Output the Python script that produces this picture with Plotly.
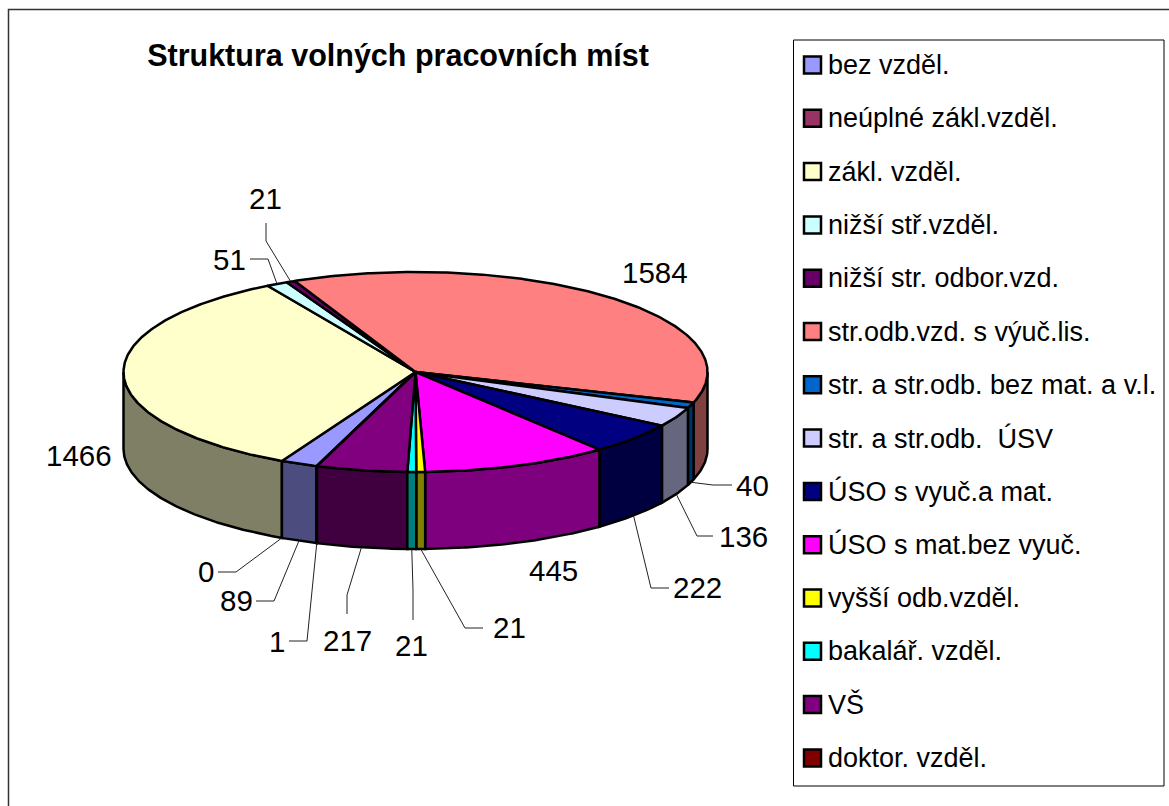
"""
Struktura volnych pracovnich mist - 3D pie drawn on a pixel-sized plot area
"""
import numpy as np
import plotly.graph_objects as go

# data
categories = ['bez vzděl.', 'neúplné zákl.vzděl.', 'zákl. vzděl.', 'nižší stř.vzděl.',
              'nižší str. odbor.vzd.', 'str.odb.vzd. s výuč.lis.', 'str. a str.odb. bez mat. a v.l.',
              'str. a str.odb.  ÚSV', 'ÚSO s vyuč.a mat.', 'ÚSO s mat.bez vyuč.',
              'vyšší odb.vzděl.', 'bakalář. vzděl.', 'VŠ', 'doktor. vzděl.']
values = [89, 0, 1466, 51, 21, 1584, 40, 136, 222, 445, 21, 21, 217, 1]
top_colors = ['#9999FF', '#993366', '#FFFFCC', '#CCFFFF', '#660066', '#FF8080', '#0066CC',
              '#CCCCFF', '#000080', '#FF00FF', '#FFFF00', '#00FFFF', '#800080', '#800000']

# pie geometry in pixels
CX, CY = 415.5, 372
RX, RY = 292, 100
DEPTH = 77
START_ANGLE = 199.8
FONT = 'Liberation Sans, Arial, sans-serif'
W, H = 1169, 806

# where the value labels sit: elbow of leader, end of leader, label centre (None = no leader)
label_layout = {
    0: ((274, 601), (256, 601), (236, 600)),
    1: ((236, 572), (218, 572), (206, 571)),
    2: (None, None, (79, 455)),
    3: ((268, 259), (250, 259), (229, 259)),
    4: ((266, 241), (266, 223), (265, 198)),
    5: (None, None, (655, 272)),
    6: ((713, 485), (732, 485), (752, 485)),
    7: ((697, 536), (713, 536), (743, 536)),
    8: ((651, 588), (669, 588), (697, 587)),
    9: (None, None, (553, 570)),
    10: ((465, 628), (483, 628), (509, 627)),
    11: ((413, 590), (413, 620), (411, 645)),
    12: ((347, 595), (347, 614), (347, 640)),
    13: ((307, 641), (289, 641), (277, 641)),
}


def rim(angle, drop=0):
    """Point on the pie rim; angle in degrees clockwise from the top"""
    rad = np.radians(angle)
    return CX + RX * np.sin(rad), CY - RY * np.cos(rad) + drop


def darker(color):
    """Side walls are the top colour at half brightness"""
    r, g, b = (int(color[i:i + 2], 16) // 2 for i in (1, 3, 5))
    return f'rgb({r},{g},{b})'


def visible_parts(a0, a1):
    """Parts of a slice that face the viewer (angles 90..270, also one turn on)"""
    parts = []
    for low, high in ((90, 270), (450, 630)):
        lo, hi = max(a0, low), min(a1, high)
        if hi > lo:
            parts.append((lo, hi))
    return parts


total = sum(values)
edges = START_ANGLE + np.cumsum([0] + values) / total * 360

fig = go.Figure()

# side walls, back edges first so the front ones overlap them
walls = []
for i, (a0, a1) in enumerate(zip(edges[:-1], edges[1:])):
    if values[i] > 0:
        walls += [(lo, hi, i) for lo, hi in visible_parts(a0, a1)]
walls.sort(key=lambda w: -abs(((w[0] + w[1]) / 2) % 360 - 180))
for lo, hi, i in walls:
    t = np.linspace(lo, hi, max(2, int(hi - lo) * 2))
    xs, ys = rim(t)
    xb, yb = rim(t[::-1], DEPTH)
    fig.add_trace(go.Scatter(
        x=np.r_[xs, xb, xs[0]], y=np.r_[ys, yb, ys[0]],
        mode='lines', fill='toself', fillcolor=darker(top_colors[i]),
        line=dict(color='black', width=2.5), hoverinfo='skip', showlegend=False
    ))

# top face
for i, (a0, a1) in enumerate(zip(edges[:-1], edges[1:])):
    if values[i] == 0:
        continue
    t = np.linspace(a0, a1, max(2, int(a1 - a0) * 2))
    xs, ys = rim(t)
    fig.add_trace(go.Scatter(
        x=np.r_[CX, xs, CX], y=np.r_[CY, ys, CY],
        mode='lines', fill='toself', fillcolor=top_colors[i],
        line=dict(color='black', width=2.5), name=categories[i],
        text=f'{categories[i]}: {values[i]}', hoverinfo='text', showlegend=False
    ))

# leader lines and value labels
for i, value in enumerate(values):
    elbow, end, centre = label_layout[i]
    if elbow is not None:
        mid = (edges[i] + edges[i + 1]) / 2
        on_front = 90 <= mid % 360 <= 270
        ax, ay = rim(mid, DEPTH if on_front else 0)
        fig.add_trace(go.Scatter(
            x=[ax, elbow[0], end[0]], y=[ay, elbow[1], end[1]], mode='lines',
            line=dict(color='#222222', width=1), hoverinfo='skip', showlegend=False
        ))
    fig.add_annotation(x=centre[0], y=centre[1], text=str(value), showarrow=False,
                       font=dict(family=FONT, size=29.5, color='black'))

# legend box, built by hand because of the wide row spacing
legend_top, legend_step = 65, 53.3
legend_y = [legend_top + legend_step * i for i in range(len(categories))]
fig.add_trace(go.Scatter(
    x=[812.5] * len(categories), y=legend_y, mode='markers',
    marker=dict(symbol='square', size=17, color=top_colors, line=dict(color='black', width=2.5)),
    hoverinfo='skip', showlegend=False
))
for name, y in zip(categories, legend_y):
    fig.add_annotation(x=826, y=y, text=name, showarrow=False, xanchor='left',
                       font=dict(family=FONT, size=27, color='black'))

fig.add_shape(type='rect', x0=8.5, y0=9.5, x1=W + 20, y1=H + 20,
              line=dict(color='#333333', width=1.5), layer='below')
fig.add_shape(type='rect', x0=793.5, y0=40, x1=1164, y1=786,
              line=dict(color='black', width=1), fillcolor='white', layer='below')

fig.update_xaxes(range=[0, W], visible=False, fixedrange=True)
fig.update_yaxes(range=[H, 0], visible=False, fixedrange=True)
fig.update_layout(
    title=dict(text='<b>Struktura volných pracovních míst</b>',
               x=398 / W, y=1 - 55 / H,
               xanchor='center', yanchor='middle',
               font=dict(family=FONT, size=30.5, color='black')),
    width=W, height=H,
    margin=dict(l=0, r=0, t=0, b=0),
    paper_bgcolor='white', plot_bgcolor='white',
    showlegend=False
)

# drop the browser's default body margin so axis units are window pixels
fig.write_html("out.html", config={'displayModeBar': False},
               post_script="document.body.style.margin = '0';")
